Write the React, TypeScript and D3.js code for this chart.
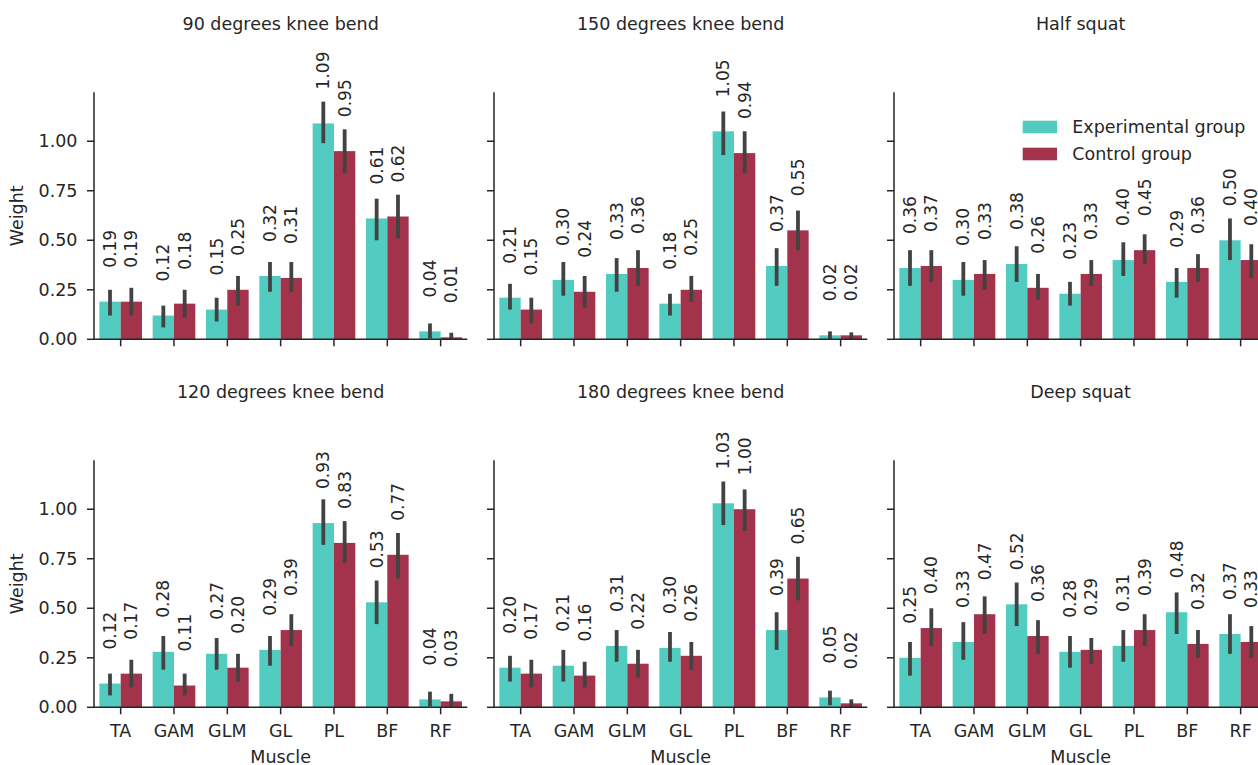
import React from "react";
import * as d3 from "d3";

// Muscles on the x axis and the two groups compared in every panel
const muscles = ["TA", "GAM", "GLM", "GL", "PL", "BF", "RF"];
const groups = ["Experimental group", "Control group"];
const groupColors = ["#52CCC0", "#A3334B"];
const yTicks = [0, 0.25, 0.5, 0.75, 1.0];

// Mean weights and 95% confidence intervals for each movement
const knee90Exp = [0.19, 0.12, 0.15, 0.32, 1.09, 0.61, 0.04];
const knee90Ctrl = [0.19, 0.18, 0.25, 0.31, 0.95, 0.62, 0.01];
const knee90ExpCI = [[0.12, 0.25], [0.06, 0.17], [0.09, 0.21], [0.24, 0.39], [0.99, 1.2], [0.5, 0.71], [0.005, 0.08]];
const knee90CtrlCI = [[0.12, 0.26], [0.11, 0.25], [0.17, 0.32], [0.24, 0.39], [0.84, 1.06], [0.51, 0.73], [0.0, 0.033]];

const knee150Exp = [0.21, 0.3, 0.33, 0.18, 1.05, 0.37, 0.02];
const knee150Ctrl = [0.15, 0.24, 0.36, 0.25, 0.94, 0.55, 0.02];
const knee150ExpCI = [[0.15, 0.28], [0.22, 0.39], [0.24, 0.41], [0.12, 0.23], [0.93, 1.15], [0.27, 0.46], [0.0, 0.04]];
const knee150CtrlCI = [[0.08, 0.21], [0.16, 0.32], [0.27, 0.45], [0.19, 0.32], [0.84, 1.05], [0.45, 0.65], [0.0, 0.035]];

const halfSquatExp = [0.36, 0.3, 0.38, 0.23, 0.4, 0.29, 0.5];
const halfSquatCtrl = [0.37, 0.33, 0.26, 0.33, 0.45, 0.36, 0.4];
const halfSquatExpCI = [[0.27, 0.45], [0.22, 0.39], [0.29, 0.47], [0.17, 0.29], [0.32, 0.49], [0.21, 0.36], [0.4, 0.61]];
const halfSquatCtrlCI = [[0.29, 0.45], [0.25, 0.4], [0.2, 0.33], [0.27, 0.4], [0.38, 0.53], [0.29, 0.43], [0.31, 0.48]];

const knee120Exp = [0.12, 0.28, 0.27, 0.29, 0.93, 0.53, 0.04];
const knee120Ctrl = [0.17, 0.11, 0.2, 0.39, 0.83, 0.77, 0.03];
const knee120ExpCI = [[0.06, 0.17], [0.19, 0.36], [0.19, 0.35], [0.21, 0.36], [0.82, 1.05], [0.42, 0.64], [0.005, 0.079]];
const knee120CtrlCI = [[0.1, 0.24], [0.06, 0.17], [0.13, 0.27], [0.31, 0.47], [0.73, 0.94], [0.65, 0.88], [0.003, 0.068]];

const knee180Exp = [0.2, 0.21, 0.31, 0.3, 1.03, 0.39, 0.05];
const knee180Ctrl = [0.17, 0.16, 0.22, 0.26, 1.0, 0.65, 0.02];
const knee180ExpCI = [[0.13, 0.26], [0.13, 0.29], [0.23, 0.39], [0.23, 0.38], [0.92, 1.14], [0.29, 0.48], [0.01, 0.084]];
const knee180CtrlCI = [[0.1, 0.24], [0.1, 0.23], [0.15, 0.29], [0.19, 0.33], [0.89, 1.1], [0.54, 0.76], [0.0, 0.04]];

const deepSquatExp = [0.25, 0.33, 0.52, 0.28, 0.31, 0.48, 0.37];
const deepSquatCtrl = [0.4, 0.47, 0.36, 0.29, 0.39, 0.32, 0.33];
const deepSquatExpCI = [[0.16, 0.33], [0.24, 0.43], [0.41, 0.63], [0.2, 0.36], [0.23, 0.39], [0.37, 0.58], [0.27, 0.47]];
const deepSquatCtrlCI = [[0.31, 0.5], [0.37, 0.56], [0.27, 0.44], [0.22, 0.35], [0.31, 0.47], [0.25, 0.39], [0.25, 0.41]];

const panels = [
  { title: "90 degrees knee bend", means: [knee90Exp, knee90Ctrl], cis: [knee90ExpCI, knee90CtrlCI] },
  { title: "150 degrees knee bend", means: [knee150Exp, knee150Ctrl], cis: [knee150ExpCI, knee150CtrlCI] },
  { title: "Half squat", means: [halfSquatExp, halfSquatCtrl], cis: [halfSquatExpCI, halfSquatCtrlCI] },
  { title: "120 degrees knee bend", means: [knee120Exp, knee120Ctrl], cis: [knee120ExpCI, knee120CtrlCI] },
  { title: "180 degrees knee bend", means: [knee180Exp, knee180Ctrl], cis: [knee180ExpCI, knee180CtrlCI] },
  { title: "Deep squat", means: [deepSquatExp, deepSquatCtrl], cis: [deepSquatExpCI, deepSquatCtrlCI] },
];

const W = 1258;
const H = 765;
const FONT = "DejaVu Sans, sans-serif";
const INK = "#262626";
const plotW = 373.3;
const plotH = 247;
const originX = 94;
const originY = 92.3;
const colStep = 400;
const rowStep = 368;
const tickLen = 7;

const x = d3.scaleBand<string>().domain(muscles).range([0, plotW]).paddingInner(0.2).paddingOuter(0.1);
const xSub = d3.scaleBand<string>().domain(groups).range([0, x.bandwidth()]);
const y = d3.scaleLinear().domain([0, 1.247]).range([plotH, 0]);

function Panel({ panel, row, col }: { panel: (typeof panels)[number]; row: number; col: number }) {
  const tx = originX + col * colStep;
  const ty = originY + row * rowStep;
  const showX = row === 1;
  const showY = col === 0;
  return (
    <g transform={`translate(${tx},${ty})`}>
      <text x={plotW / 2} y={-62.3} textAnchor="middle" fontSize={17.5} fill={INK} fontFamily={FONT}>
        {panel.title}
      </text>
      {groups.map((g, gi) =>
        muscles.map((m, mi) => {
          const v = panel.means[gi][mi];
          const [lo, hi] = panel.cis[gi][mi];
          const bx = (x(m) as number) + (xSub(g) as number);
          const cx = bx + xSub.bandwidth() / 2;
          return (
            <g key={`${g}-${m}`}>
              <rect x={bx} y={y(v)} width={xSub.bandwidth()} height={plotH - y(v)} fill={groupColors[gi]} />
              <line x1={cx} x2={cx} y1={y(lo)} y2={y(hi)} stroke="#424242" strokeWidth={3.8} />
              <text
                transform={`translate(${cx},${y(v) - 34}) rotate(-90)`}
                textAnchor="start"
                dominantBaseline="central"
                fontSize={17}
                fill={INK}
                fontFamily={FONT}
              >
                {v.toFixed(2)}
              </text>
            </g>
          );
        })
      )}
      {/* axes */}
      <line x1={0} x2={0} y1={0} y2={plotH} stroke={INK} strokeWidth={1.5} />
      <line x1={0} x2={plotW} y1={plotH} y2={plotH} stroke={INK} strokeWidth={1.5} />
      {yTicks.map((t) => (
        <g key={t}>
          <line x1={-tickLen} x2={0} y1={y(t)} y2={y(t)} stroke={INK} strokeWidth={1.5} />
          {showY && (
            <text x={-16.5} y={y(t)} textAnchor="end" dominantBaseline="central" fontSize={17.5} fill={INK} fontFamily={FONT}>
              {t.toFixed(2)}
            </text>
          )}
        </g>
      ))}
      {muscles.map((m) => {
        const cx = (x(m) as number) + x.bandwidth() / 2;
        return (
          <g key={m}>
            <line x1={cx} x2={cx} y1={plotH} y2={plotH + tickLen} stroke={INK} strokeWidth={1.5} />
            {showX && (
              <text x={cx} y={plotH + 30} textAnchor="middle" fontSize={17.5} fill={INK} fontFamily={FONT}>
                {m}
              </text>
            )}
          </g>
        );
      })}
      {showX && (
        <text x={plotW / 2} y={plotH + 56} textAnchor="middle" fontSize={17.5} fill={INK} fontFamily={FONT}>
          Muscle
        </text>
      )}
      {showY && (
        <text
          transform={`translate(${-77},${plotH / 2}) rotate(-90)`}
          textAnchor="middle"
          dominantBaseline="central"
          fontSize={17.5}
          fill={INK}
          fontFamily={FONT}
        >
          Weight
        </text>
      )}
    </g>
  );
}

function Legend() {
  return (
    <g transform="translate(1022.7,120.7)">
      {groups.map((g, i) => (
        <g key={g} transform={`translate(0,${i * 27})`}>
          <rect x={0} y={0} width={34.3} height={12.6} fill={groupColors[i]} />
          <text x={49.6} y={12.6} fontSize={17.5} fill={INK} fontFamily={FONT}>
            {g}
          </text>
        </g>
      ))}
    </g>
  );
}

export default function App() {
  return (
    <svg
      width={W}
      height={H}
      viewBox={`0 0 ${W} ${H}`}
      style={{ position: "absolute", left: 0, top: 0, background: "#fff" }}
    >
      <rect width={W} height={H} fill="#fff" />
      {panels.map((p, i) => (
        <Panel key={p.title} panel={p} row={Math.floor(i / 3)} col={i % 3} />
      ))}
      <Legend />
    </svg>
  );
}
